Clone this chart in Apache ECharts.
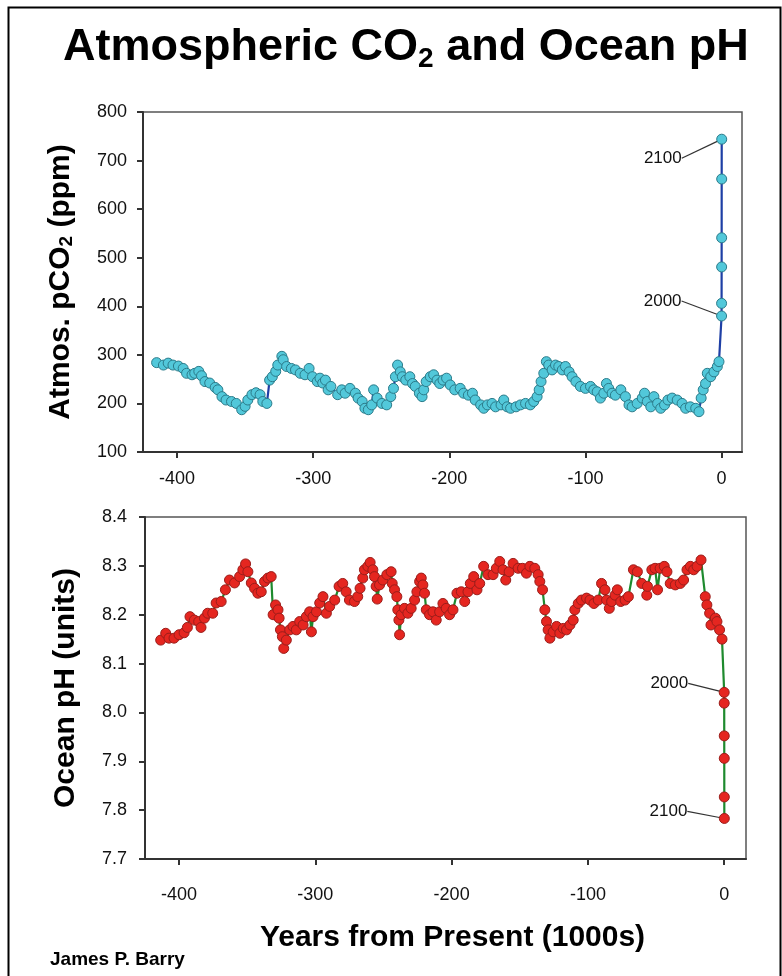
<!DOCTYPE html>
<html><head><meta charset="utf-8">
<script src="https://cdn.jsdelivr.net/npm/echarts@6/dist/echarts.min.js"></script>
<style>html,body{margin:0;padding:0;background:#fff}#c{width:782px;height:976px}</style>
</head><body><div id="c"></div>
<script>
// ---- Data (thousands of years from present) ----
const co2Years = [-415,-410,-406.5,-403,-399,-395.5,-393,-389,-387,-384,-382,-379.5,-376,-372,-370,-367,-364,-360,-356.5,-352.5,-350,-348,-345,-342,-339,-337,-334,-332,-330,-327.5,-326,-323,-322,-319.5,-316,-313,-309.5,-306,-303,-300.5,-297,-295,-293,-291,-289,-287,-282,-279,
-276.5,-273,-269,-267,-264,-262,-259.5,-257,-255.6,-253,-249.5,-246,-243,-241,-239.6,-238,-236,-234.5,-232,-229,-227,-225,-222,-220,-218.8,-217,-214,-211.5,-209,-207,-204.6,-202,-199.3,-196,-192,-189.5,-186,-183,-181,-177,-174.7,-172,-168.6,-166,-162,-160,-157.5,-155,-151,-147.7,-144,-140.5,-138,-135.5,-134,-132.6,
-130.6,-128.7,-127,-124.5,-122,-119.6,-117,-114.7,-112,-109.8,-107,-103.7,-100,-96.3,-93.9,-91.4,-89,-86.5,-84.6,-82.9,-80.4,-78,-74,-70.6,-68,-65.7,-62,-58.3,-56.6,-54.6,-52,-49.7,-47,-44.7,-41.9,-39.4,-36.3,-32.6,-29,-26.4,-23,-19,-16.6,-15,-13.5,-11.8,-10.5,-8,-5.6,-3.1,-1.9,
0,0.01,0.04,0.06,0.08,0.1];
const co2Values = [284,279,283,279,277,272,262,259,262,266,257,245,242,233,228,214,207,204,200,187,194,207,218,222,218,204,200,248,255,266,279,297,290,276,272,269,262,259,272,255,245,252,242,248,228,235,218,228,
221,231,221,211,204,190,187,197,228,211,200,197,214,231,255,279,265,255,248,255,241,235,221,214,228,245,255,259,248,241,248,252,238,228,231,221,217,221,207,197,190,197,200,193,197,207,193,190,193,197,200,197,204,214,228,245,
262,286,279,269,279,276,269,276,265,255,245,235,231,235,228,224,211,221,241,231,221,217,228,214,197,193,200,211,221,204,193,214,200,190,197,207,211,207,200,190,193,190,183,211,228,241,262,255,265,276,286,
380,406,481,541,662,744];

const phYears = [-413.5,-409.8,-407.4,-403.7,-400,-396.3,-393.9,-392,-388.8,-385.6,-383.9,-381.4,-379,-375.3,-372.8,-369.1,-366,-363,-359.3,-355.6,-353.2,-351.2,-349.5,-347,-344.6,-342.2,-339.7,-337.3,-334.8,-332.4,-331,-329.2,-327.4,-326.6,-325.6,-324.2,-323.2,-321.3,-318.8,-316.4,-314,-311.5,-309,-306.6,-304.2,-302.9,-301.7,-299.2,-296.8,-294.4,-291.9,-289.5,-285.8,-282.6,
-279.9,-277.4,-275,-271.3,-268.9,-267.2,-265.2,-264,-261.5,-259.8,-257.8,-256.6,-255.4,-254.6,-252.9,-250.5,-247.5,-244.4,-243.6,-241.9,-240.2,-239.5,-238.7,-238.2,-237,-234.6,-232.1,-229.7,-227.2,-225.5,-223.5,-222.3,-221.1,-219.9,-218.6,-216.2,-213.7,-211.3,-208.8,-206.4,-204,-201.5,-199,-196.1,-192.9,-190.4,-188,-186.3,-183.8,-181.4,-179.4,-176.5,-173.3,-169.6,-167.2,-164.7,-162.3,-160.3,-157.8,-154.9,-151.2,-148,-145.1,-142.6,-139,-136.5,-135.3,
-133.3,-131.6,-130.4,-129.2,-127.9,-125.5,-123,-120.6,-118.1,-115.7,-113.2,-110.8,-109.6,-107.1,-104.7,-101,-98.5,-95.6,-92.4,-90,-87.5,-86.3,-84.3,-82.6,-80.1,-78.4,-75.9,-72.7,-70.3,-66.6,-63.7,-60.5,-56.8,-56.3,-53.1,-50.7,-48.9,-47,-44,-42,-39.6,-35.9,-32.2,-29.8,-27.3,-24.8,-22.4,-19.9,-17,-13.9,-12.7,-10.7,-9.7,-6.5,-5.3,-3.4,-1.6,
0,0.01,0.04,0.06,0.08,0.1];
const phValues = [8.148,8.162,8.152,8.152,8.159,8.163,8.174,8.196,8.189,8.186,8.174,8.193,8.203,8.203,8.224,8.227,8.251,8.271,8.265,8.278,8.292,8.304,8.288,8.265,8.254,8.244,8.247,8.268,8.275,8.278,8.200,8.220,8.210,8.193,8.169,8.155,8.131,8.148,8.169,8.176,8.169,8.186,8.179,8.196,8.206,8.165,8.196,8.206,8.224,8.237,8.203,8.217,8.230,8.258,
8.264,8.247,8.230,8.227,8.237,8.254,8.275,8.292,8.299,8.307,8.292,8.278,8.258,8.232,8.261,8.271,8.282,8.288,8.264,8.251,8.237,8.210,8.189,8.159,8.200,8.213,8.203,8.213,8.230,8.247,8.268,8.275,8.261,8.244,8.210,8.200,8.206,8.189,8.206,8.223,8.213,8.200,8.210,8.244,8.247,8.227,8.247,8.264,8.278,8.251,8.264,8.299,8.282,8.282,8.295,8.309,8.292,8.271,8.288,8.305,8.295,8.295,8.285,8.299,8.295,8.282,8.268,
8.251,8.210,8.186,8.169,8.152,8.165,8.176,8.162,8.172,8.169,8.179,8.189,8.210,8.223,8.230,8.234,8.230,8.223,8.230,8.264,8.251,8.230,8.213,8.227,8.240,8.251,8.227,8.230,8.237,8.292,8.288,8.264,8.240,8.258,8.292,8.295,8.251,8.295,8.299,8.288,8.264,8.261,8.264,8.271,8.292,8.299,8.292,8.299,8.312,8.237,8.220,8.203,8.179,8.193,8.186,8.169,8.150,
8.041,8.019,7.952,7.906,7.827,7.783];

const xTickValues = [-400, -300, -200, -100, 0];
const noteYears = [0, 0.1];
const noteTexts = ['2000', '2100'];

// ---- Chart ----
const FONT = '"Liberation Sans", Arial, Helvetica, sans-serif';
const chart = echarts.init(document.getElementById('c'), null, {renderer: 'canvas'});

function buildData(years, values) {
  return years.map((t, i) => {
    const k = noteYears.indexOf(t);
    const item = {value: [t, values[i]]};
    if (k >= 0) item.label = {show: true, formatter: noteTexts[k]};
    return item;
  });
}
function noteLayout(years, offsets) {
  return function (p) {
    const k = noteYears.indexOf(years[p.dataIndex]);
    if (k < 0) return {};
    const cx = p.rect.x + p.rect.width / 2, cy = p.rect.y + p.rect.height / 2;
    return {x: cx + offsets[k][0], y: cy + offsets[k][1], align: 'right', verticalAlign: 'middle'};
  };
}

const axisLineStyle = {color: '#333', width: 2};
const tickLabel = {fontFamily: FONT, fontSize: 18, color: '#111'};
const nameRich = {
  a: {fontFamily: FONT, fontSize: 30, fontWeight: 'bold', color: '#000'},
  b: {fontFamily: FONT, fontSize: 19, fontWeight: 'bold', color: '#000', verticalAlign: 'bottom', lineHeight: 22}
};

const option = {
  animation: false,
  backgroundColor: '#fff',
  title: {
    text: '{a|Atmospheric CO}{b|2}{a| and Ocean pH}',
    left: 58, top: 18,
    textStyle: {rich: {
      a: {fontFamily: FONT, fontSize: 45, fontWeight: 'bold', color: '#000', lineHeight: 50},
      b: {fontFamily: FONT, fontSize: 28, fontWeight: 'bold', color: '#000', verticalAlign: 'bottom', lineHeight: 30}
    }}
  },
  grid: [
    {left: 143, top: 112, width: 599, height: 340, show: true, borderColor: '#555', borderWidth: 1.5, outerBoundsMode: 'none', containLabel: false},
    {left: 145, top: 517, width: 601, height: 342, show: true, borderColor: '#555', borderWidth: 1.5, outerBoundsMode: 'none', containLabel: false}
  ],
  xAxis: [
    {type: 'value', gridIndex: 0, min: -425, max: 15, splitLine: {show: false},
     axisLine: {onZero: false, lineStyle: axisLineStyle}, axisTick: {length: 6, lineStyle: axisLineStyle, customValues: xTickValues},
     axisLabel: Object.assign({margin: 18, customValues: xTickValues}, tickLabel)},
    {type: 'value', gridIndex: 1, min: -425, max: 16, splitLine: {show: false},
     axisLine: {onZero: false, lineStyle: axisLineStyle}, axisTick: {length: 6, lineStyle: axisLineStyle, customValues: xTickValues},
     axisLabel: Object.assign({margin: 27, customValues: xTickValues}, tickLabel),
     name: 'Years from Present (1000s)', nameLocation: 'middle', nameGap: 64,
     nameTextStyle: {fontFamily: FONT, fontSize: 30, fontWeight: 'bold', color: '#000', padding: [0, 0, 0, 14]}}
  ],
  yAxis: [
    {type: 'value', gridIndex: 0, min: 100, max: 800, interval: 100, splitLine: {show: false},
     axisLine: {onZero: false, lineStyle: axisLineStyle}, axisTick: {length: 6, lineStyle: axisLineStyle},
     axisLabel: Object.assign({margin: 16}, tickLabel),
     name: '{a|Atmos. pCO}{b|2}{a| (ppm)}', nameLocation: 'middle', nameGap: 67,
     nameTextStyle: {rich: nameRich}},
    {type: 'value', gridIndex: 1, min: 7.7, max: 8.4, interval: 0.1, splitLine: {show: false},
     axisLine: {onZero: false, lineStyle: axisLineStyle}, axisTick: {length: 6, lineStyle: axisLineStyle},
     axisLabel: Object.assign({margin: 18, formatter: v => v.toFixed(1)}, tickLabel),
     name: 'Ocean pH (units)', nameLocation: 'middle', nameGap: 64,
     nameTextStyle: {fontFamily: FONT, fontSize: 30, fontWeight: 'bold', color: '#000'}}
  ],
  series: [
    {type: 'line', xAxisIndex: 0, yAxisIndex: 0, data: buildData(co2Years, co2Values),
     symbol: 'circle', symbolSize: 10, showSymbol: true,
     itemStyle: {color: '#52c8da', borderColor: '#2b7b8a', borderWidth: 1},
     lineStyle: {color: '#1e3fa5', width: 2.2},
     label: {show: false, fontFamily: FONT, fontSize: 17, color: '#111'},
     labelLine: {show: true, lineStyle: {color: '#333', width: 1.2}},
     labelLayout: noteLayout(co2Years, [[-40, -15], [-40, 19]]),
     emphasis: {disabled: true}},
    {type: 'line', xAxisIndex: 1, yAxisIndex: 1, data: buildData(phYears, phValues),
     symbol: 'circle', symbolSize: 10, showSymbol: true,
     itemStyle: {color: '#e52620', borderColor: '#9b1d1a', borderWidth: 1},
     lineStyle: {color: '#1e8a2e', width: 2.2},
     label: {show: false, fontFamily: FONT, fontSize: 17, color: '#111'},
     labelLine: {show: true, lineStyle: {color: '#333', width: 1.2}},
     labelLayout: noteLayout(phYears, [[-36, -9], [-37, -7]]),
     emphasis: {disabled: true}}
  ],
  graphic: [
    {type: 'rect', left: 6, top: 5, shape: {width: 772, height: 980}, style: {fill: null, stroke: '#000', lineWidth: 2}, silent: true},
    {type: 'text', left: 50, top: 950, style: {text: 'James P. Barry', fontFamily: FONT, fontSize: 19, fontWeight: 'bold', fill: '#000'}}
  ]
};
chart.setOption(option);
</script>
</body></html>
